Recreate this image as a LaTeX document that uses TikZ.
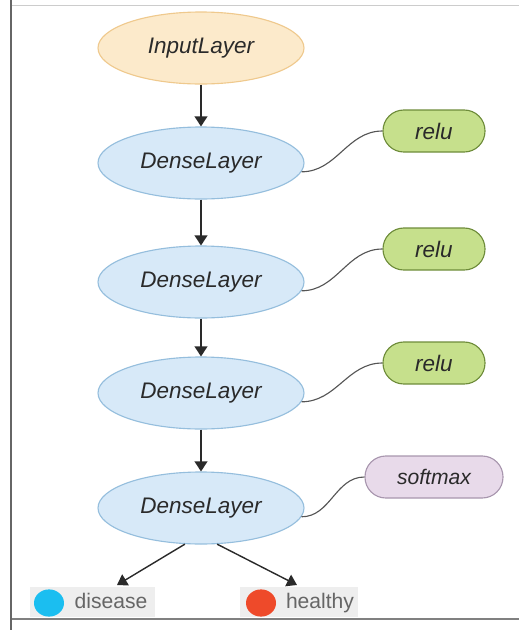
\documentclass[tikz,border=0pt]{standalone}
\usepackage{fontspec}
\setmainfont{Liberation Sans}
\usepackage{tikz}
\usetikzlibrary{arrows.meta,positioning,calc,shapes.geometric}
\definecolor{InkGray}{HTML}{2A2A2A}
\definecolor{WireGray}{HTML}{555555}
\definecolor{InFill}{HTML}{FCEACB}
\definecolor{InLine}{HTML}{EFC98D}
\definecolor{LayerFill}{HTML}{D7E9F8}
\definecolor{LayerLine}{HTML}{95BEDD}
\definecolor{ReluFill}{HTML}{C6E08C}
\definecolor{ReluLine}{HTML}{6E8C3A}
\definecolor{SoftFill}{HTML}{E8DAEA}
\definecolor{SoftLine}{HTML}{A896AE}
\definecolor{LegendFill}{HTML}{EEEEEE}
\definecolor{DiseaseCol}{HTML}{1BBEF0}
\definecolor{HealthyCol}{HTML}{EE4A2A}
\tikzset{
  layerbox/.style={ellipse,draw=LayerLine,fill=LayerFill,line width=0.8pt,
    minimum width=5.15cm,minimum height=1.8cm,inner sep=0pt,
    font=\fontsize{16}{19}\selectfont\itshape,text=InkGray},
  inputbox/.style={layerbox,draw=InLine,fill=InFill},
  actbox/.style={draw=ReluLine,fill=ReluFill,line width=0.8pt,rounded corners=0.52cm,
    minimum width=2.55cm,minimum height=1.05cm,inner sep=0pt,
    font=\fontsize{16}{19}\selectfont\itshape,text=InkGray},
  softbox/.style={actbox,draw=SoftLine,fill=SoftFill,minimum width=3.45cm,
    font=\fontsize{15}{18}\selectfont\itshape},
  legbox/.style={fill=LegendFill,minimum height=0.75cm,inner sep=0pt},
  legdot/.style={ellipse,minimum width=0.75cm,minimum height=0.68cm,inner sep=0pt},
  legtext/.style={font=\fontsize{15}{18}\selectfont,text=WireGray!90,inner sep=0pt,
    text height=0.72em,text depth=0.2em},
  flowarrow/.style={-{Triangle[length=2.5mm,width=3.2mm]},line width=1pt,draw=InkGray},
  actwire/.style={line width=0.8pt,draw=WireGray}
}

\begin{document}
\begin{tikzpicture}[x=1cm,y=1cm]
  \useasboundingbox (0,0) rectangle (12.975,-15.75);
  \draw[line width=0.6pt,draw=black!20] (0.275,-0.125) -- (12.975,-0.125);
  \draw[line width=0.8pt,draw=black!50] (0.275,-15.475) -- (12.975,-15.475);
  \draw[line width=1.4pt,draw=black!60] (0.275,0) -- (0.275,-15.75);

  \node[inputbox] (in) at (5.025,-1.2) {InputLayer};
  \node[layerbox] (d1) at (5.025,-4.075) {DenseLayer};
  \node[layerbox] (d2) at (5.025,-7.05) {DenseLayer};
  \node[layerbox] (d3) at (5.025,-9.825) {DenseLayer};
  \node[layerbox] (d4) at (5.025,-12.7) {DenseLayer};

  \node[actbox] (r1) at (10.85,-3.275) {relu};
  \node[actbox] (r2) at (10.85,-6.225) {relu};
  \node[actbox] (r3) at (10.85,-9.075) {relu};
  \node[softbox] (sm) at (10.85,-11.925) {softmax};

  \node[legbox,minimum width=3.125cm] (lb1) at (2.3125,-15.05) {};
  \node[legbox,minimum width=2.95cm] (lb2) at (7.475,-15.05) {};
  \node[legdot,fill=DiseaseCol] (c1) at (1.225,-15.075) {};
  \node[legtext] (t1) at (2.775,-15.13) {disease};
  \node[legdot,fill=HealthyCol] (c2) at (6.525,-15.075) {};
  \node[legtext] (t2) at (8.0,-15.13) {healthy};
  \coordinate (tip1) at (2.925,-14.625);
  \coordinate (tip2) at (7.425,-14.625);

  \draw[flowarrow] (in) -- (d1);
  \draw[flowarrow] (d1) -- (d2);
  \draw[flowarrow] (d2) -- (d3);
  \draw[flowarrow] (d3) -- (d4);
  \draw[flowarrow] (d4.246) -- (tip1);
  \draw[flowarrow] (d4.294) -- (tip2);

  \draw[actwire] (d1.-5) to[out=0,in=180] (r1.west);
  \draw[actwire] (d2.-5) to[out=0,in=180] (r2.west);
  \draw[actwire] (d3.-5) to[out=0,in=180] (r3.west);
  \draw[actwire] (d4.-5) to[out=0,in=180] (sm.west);
\end{tikzpicture}
\end{document}
